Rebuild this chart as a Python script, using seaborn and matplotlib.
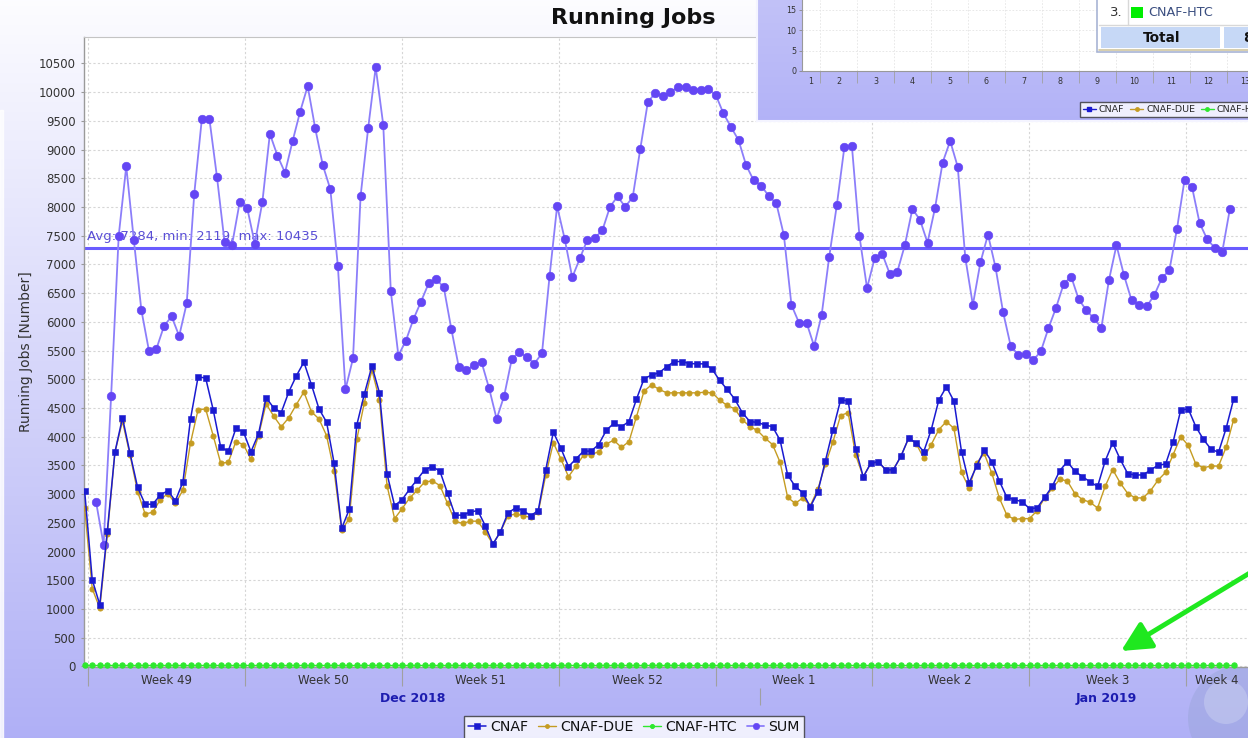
import numpy as np
import pandas as pd
import matplotlib
matplotlib.use("Agg")
import matplotlib.pyplot as plt
import seaborn as sns
from matplotlib.patches import Rectangle, Circle
from matplotlib.lines import Line2D

# ---- values (one sample roughly every 8 hours) ----
cnaf = [3050, 1510, 1075, 2365, 3730, 4330, 3710, 3120, 2825, 2825, 2985, 3060, 2885,
        3215, 4310, 5040, 5025, 4470, 3815, 3750, 4145, 4085, 3740, 4050, 4680, 4505,
        4420, 4780, 5060, 5300, 4905, 4485, 4255, 3540, 2405, 2735, 4205, 4745, 5230,
        4765, 3355, 2800, 2905, 3090, 3255, 3430, 3480, 3400, 3015, 2635, 2635, 2690,
        2715, 2450, 2130, 2345, 2675, 2760, 2715, 2625, 2715, 3430, 4080, 3800, 3480,
        3615, 3750, 3750, 3865, 4110, 4235, 4175, 4265, 4655, 5010, 5075, 5115, 5220,
        5310, 5310, 5275, 5270, 5270, 5180, 4980, 4825, 4655, 4420, 4265, 4250, 4205,
        4175, 3940, 3335, 3135, 3025, 2780, 3045, 3585, 4125, 4640, 4625, 3790, 3300,
        3540, 3565, 3420, 3430, 3665, 3975, 3895, 3740, 4125, 4640, 4870, 4620, 3740,
        3195, 3490, 3770, 3565, 3230, 2945, 2905, 2870, 2750, 2760, 2945, 3135, 3410,
        3565, 3400, 3305, 3215, 3135, 3575, 3895, 3605, 3355, 3335, 3335, 3420, 3505,
        3525, 3915, 4465, 4485, 4175, 3955, 3785, 3730, 4145, 4655]

cnaf_due = [2760, 1355, 1015, 2300, 3730, 4270, 3680, 3045, 2655, 2685, 2905, 3010, 2840,
            3070, 3895, 4470, 4485, 4020, 3540, 3555, 3915, 3865, 3605, 4020, 4575, 4360,
            4175, 4330, 4560, 4780, 4435, 4310, 4020, 3400, 2375, 2575, 3955, 4595, 5165,
            4640, 3150, 2575, 2750, 2935, 3070, 3215, 3230, 3150, 2840, 2530, 2490, 2530,
            2530, 2345, 2130, 2345, 2625, 2655, 2625, 2595, 2685, 3335, 3895, 3615, 3305,
            3490, 3680, 3690, 3740, 3875, 3940, 3815, 3915, 4350, 4795, 4905, 4825, 4765,
            4765, 4765, 4765, 4765, 4775, 4765, 4640, 4545, 4485, 4300, 4175, 4110, 3975,
            3865, 3555, 2945, 2840, 2935, 2800, 3090, 3525, 3915, 4370, 4420, 3680, 3305,
            3540, 3565, 3420, 3430, 3665, 3975, 3880, 3630, 3865, 4125, 4265, 4145, 3380,
            3110, 3540, 3710, 3370, 2935, 2635, 2560, 2575, 2575, 2715, 2935, 3100, 3260,
            3230, 3010, 2905, 2860, 2760, 3135, 3430, 3195, 3010, 2935, 2935, 3060, 3245,
            3380, 3690, 4000, 3850, 3525, 3460, 3490, 3490, 3815, 4300]

# CNAF-HTC sits on the zero line for the whole period
cnaf_htc = [25] * len(cnaf)

sum_jobs = [2870, 2120, 4715, 7500, 8710, 7430, 6205, 5500, 5535, 5930,
            6095, 5755, 6325, 8235, 9535, 9535, 8525, 7395, 7345, 8080,
            7985, 7365, 8080, 9275, 8895, 8600, 9145, 9660, 10105, 9370,
            8730, 8310, 6965, 4825, 5365, 8190, 9370, 10435, 9430, 6530,
            5415, 5675, 6050, 6355, 6670, 6745, 6605, 5880, 5210, 5155,
            5250, 5300, 4845, 4310, 4715, 5350, 5475, 5385, 5275, 5455,
            6795, 8015, 7445, 6775, 7105, 7430, 7460, 7600, 8005, 8185,
            8005, 8170, 9010, 9825, 9990, 9940, 10000, 10095, 10095, 10045,
            10045, 10050, 9950, 9630, 9395, 9165, 8730, 8465, 8375, 8190,
            8065, 7510, 6295, 5985, 5985, 5580, 6125, 7135, 8030, 9040,
            9060, 7490, 6590, 7105, 7190, 6840, 6870, 7335, 7965, 7780,
            7380, 7985, 8775, 9150, 8700, 7120, 6295, 7035, 7520, 6950,
            6170, 5585, 5425, 5440, 5335, 5490, 5890, 6245, 6655, 6790,
            6395, 6205, 6065, 5895, 6725, 7335, 6810, 6375, 6295, 6270,
            6465, 6760, 6900, 7615, 8470, 8345, 7720, 7440, 7290, 7225,
            7965]
sum_offset = 1.5  # SUM samples start later and sit between the other samples

avg_jobs, min_jobs, max_jobs = 7284, 2119, 10435

week_labels = ['Week 49', 'Week 50', 'Week 51', 'Week 52', 'Week 1', 'Week 2', 'Week 3', 'Week 4']
week_edges = [0.44, 21.2, 42.0, 62.7, 83.5, 104.1, 124.9, 145.7]
month_labels = ['Dec 2018', 'Jan 2019']
month_label_pos = [43.4, 135.2]
month_edges = [89.3]

inset_days = [str(d) for d in range(1, 14)]

# ---- colours ----
c_cnaf = '#1a1ad0'
c_due = '#c59c22'
c_htc = '#2ee82e'
c_sum_line = '#8c7efa'
c_sum_mark = '#6446f4'

sns.set_style("white")
plt.rcParams['font.family'] = ['DejaVu Sans']

W, H = 1248, 738
fig = plt.figure(figsize=(W / 100, H / 100), dpi=100)

# background gradient of the window (plus the desktop globe in the corner)
bg = fig.add_axes([0, 0, 1, 1], zorder=0)
bg.set_xlim(0, W)
bg.set_ylim(H, 0)
bg.axis('off')
t = np.linspace(0, 1, 256)[:, None, None]
top_c = np.array([0.99, 0.99, 1.0])
bot_c = np.array([0.69, 0.69, 0.965])
bg.imshow(top_c + (bot_c - top_c) * t * np.ones((1, 2, 1)), extent=(0, W, H, 0), aspect='auto')
bg.add_patch(Rectangle((0, 110), 3, H, color='white', alpha=0.8))
bg.add_patch(Circle((1240, 718), 52, fc='#95a2d4', ec='none', alpha=0.4))
bg.add_patch(Circle((1226, 702), 22, fc='#e2e8f8', ec='none', alpha=0.3))

# ---- main chart ----
ax = fig.add_axes([84 / W, 1 - 667 / H, (W - 84) / W, 630 / H], zorder=2)
ax.set_facecolor('white')

df = pd.DataFrame({'sample': np.arange(len(cnaf)), 'CNAF': cnaf,
                   'CNAF-DUE': cnaf_due, 'CNAF-HTC': cnaf_htc})
df_sum = pd.DataFrame({'sample': np.arange(len(sum_jobs)) + sum_offset, 'SUM': sum_jobs})

ax.axhline(avg_jobs, color='#6a5cff', lw=2.2, zorder=1.5)
ax.annotate(f'Avg: {avg_jobs}, min: {min_jobs}, max: {max_jobs}',
            xy=(0, avg_jobs), xycoords=ax.get_yaxis_transform(),
            xytext=(2, 8.3), textcoords='offset points', va='center', ha='left',
            fontsize=9.5, color='#5a4fd6', zorder=1.6)

sns.lineplot(data=df_sum, x='sample', y='SUM', ax=ax, errorbar=None, color=c_sum_line,
             lw=1.3, marker='o', markersize=6.2, markerfacecolor=c_sum_mark,
             markeredgecolor=c_sum_mark, markeredgewidth=0.4, label='SUM', zorder=3)
sns.lineplot(data=df, x='sample', y='CNAF-HTC', ax=ax, errorbar=None, color=c_htc,
             lw=1.0, marker='o', markersize=3.8, markerfacecolor=c_htc,
             markeredgecolor=c_htc, label='CNAF-HTC', zorder=4, clip_on=False)
sns.lineplot(data=df, x='sample', y='CNAF-DUE', ax=ax, errorbar=None, color=c_due,
             lw=1.0, marker='o', markersize=3.6, markerfacecolor=c_due,
             markeredgecolor=c_due, label='CNAF-DUE', zorder=5)
sns.lineplot(data=df, x='sample', y='CNAF', ax=ax, errorbar=None, color=c_cnaf,
             lw=1.1, marker='s', markersize=5, markerfacecolor=c_cnaf,
             markeredgecolor=c_cnaf, markeredgewidth=0.4, label='CNAF', zorder=6)

handles, labels = ax.get_legend_handles_labels()
if ax.get_legend() is not None:
    ax.get_legend().remove()
legend_order = ['CNAF', 'CNAF-DUE', 'CNAF-HTC', 'SUM']
handles = [handles[labels.index(name)] for name in legend_order]

ax.set_xlim(-0.09, 153.9)
ax.set_ylim(-9, 10961)
ax.set_yticks(np.arange(0, 10501, 500))
ax.tick_params(axis='y', length=2, width=0.8, color='#999999', pad=4,
               labelsize=8.5, labelcolor='#333333', left=True)

# weeks: boundaries as major ticks, names as minor ticks in the middle
ax.set_xticks(week_edges)
ax.set_xticklabels([])
week_mid = [(a + b) / 2 for a, b in zip(week_edges, week_edges[1:] + [153.9])]
ax.set_xticks(week_mid, minor=True)
ax.set_xticklabels(week_labels, minor=True)
ax.tick_params(axis='x', which='major', length=13.5, width=0.8, color='#a0a0a0', bottom=True)
ax.tick_params(axis='x', which='minor', length=0, pad=5.2, labelsize=8.5,
               labelcolor='#333333', bottom=True)

ax.grid(axis='y', color='#d6d6d6', lw=0.8, ls=(0, (2, 2)))
ax.grid(axis='x', which='major', color='#d6d6d6', lw=0.8, ls=(0, (2, 2)))
ax.set_axisbelow(True)

for side in ['left', 'bottom']:
    ax.spines[side].set_color('#9a9a9a')
    ax.spines[side].set_linewidth(1.0)
ax.spines['top'].set_color('#c4c4c4')
ax.spines['right'].set_visible(False)

ax.set_xlabel('')
ax.set_ylabel('Running Jobs [Number]', fontsize=10, color='#333333')
ax.yaxis.set_label_coords(-0.0442, 0.5)

# month row under the weeks
sec = ax.secondary_xaxis(-0.034)
sec.set_xticks(month_edges)
sec.set_xticklabels([])
sec.set_xticks(month_label_pos, minor=True)
sec.set_xticklabels(month_labels, minor=True, fontweight='bold', color='#1c1cb0')
sec.tick_params(axis='x', which='major', length=12, width=0.8, color='#a0a0a0')
sec.tick_params(axis='x', which='minor', length=0, pad=2.5, labelsize=9)
sec.spines['bottom'].set_visible(False)

fig.text(633.5 / W, 1 - 18 / H, 'Running Jobs', ha='center', va='center',
         fontsize=16, fontweight='bold', color='#111111')

leg = fig.legend(handles, legend_order, loc='upper center', bbox_to_anchor=(634 / W, 1 - 716 / H),
                 ncol=4, fontsize=10.2, frameon=True, fancybox=False, edgecolor='#333333',
                 handlelength=1.25, handletextpad=0.3, columnspacing=0.7, borderpad=0.3,
                 borderaxespad=0, markerscale=0.75)
leg.get_frame().set_linewidth(1.0)
for txt in leg.get_texts():
    txt.set_color('#111111')

# ---- overlapping window of another chart (top right) ----
ins_bg = fig.add_axes([757 / W, 1 - 121 / H, (W - 757) / W, 121 / H], zorder=5)
ins_bg.axis('off')
t2 = np.linspace(0, 1, 64)[:, None, None]
ib_top = np.array([0.76, 0.76, 0.97])
ib_bot = np.array([0.70, 0.70, 0.97])
ins_bg.imshow(ib_top + (ib_bot - ib_top) * t2 * np.ones((1, 2, 1)), extent=(0, 1, 0, 1),
              aspect='auto', transform=ins_bg.transAxes)

ins = fig.add_axes([801.7 / W, 1 - 71 / H, (W - 801.7) / W, 71 / H], zorder=6)
ins.set_facecolor('white')
ins.set_xlim(-0.495, 11.57)
ins.set_ylim(0, 17.44)
ins.set_yticks([0, 5, 10, 15])
ins.set_xticks(range(12))
ins.set_xticklabels([])
day_pos = [-0.25] + [d - 1.5 for d in range(2, 14)]
ins.set_xticks(day_pos, minor=True)
ins.set_xticklabels(inset_days, minor=True)
ins.tick_params(axis='y', length=2.5, width=0.6, color='#888888', pad=1.5,
                labelsize=5.8, labelcolor='#333333', left=True)
ins.tick_params(axis='x', which='major', length=8.5, width=0.6, color='#a0a0a0', bottom=True)
ins.tick_params(axis='x', which='minor', length=0, pad=4, labelsize=5.8,
                labelcolor='#333333', bottom=True)
ins.grid(axis='both', which='major', color='#e4e4e4', lw=0.6, ls=(0, (2, 2)))
for side in ['top', 'right']:
    ins.spines[side].set_visible(False)
ins.spines['left'].set_color('#999999')
ins.spines['bottom'].set_color('#999999')

# ---- pixel-space overlay: table, inset legend, arrow ----
ov = fig.add_axes([0, 0, 1, 1], zorder=7)
ov.set_xlim(0, W)
ov.set_ylim(H, 0)
ov.axis('off')
ov.patch.set_visible(False)

ov.add_patch(Rectangle((757, -2), 500, 123, fill=False, ec='#f4f4ff', lw=1.5))
ov.add_patch(Rectangle((1097, -2), 160, 53.5, fc='white', ec='#a8b4d4', lw=1.2))
ov.plot([1099, 1250], [25, 25], color='#d8d8d8', lw=1)
ov.plot([1128, 1128], [-2, 25], color='#d8d8d8', lw=1)
ov.add_patch(Rectangle((1101, 27), 119, 21, fc='#c6d8f6', ec='none'))
ov.add_patch(Rectangle((1224, 27), 30, 21, fc='#c6d8f6', ec='none'))
ov.plot([1099, 1250], [49.5, 49.5], color='#cfc6a0', lw=1.2)
ov.text(1116, 13, '3.', ha='center', va='center', fontsize=9.5, color='#333333')
ov.add_patch(Rectangle((1131, 6.5), 11.5, 11.5, fc='#00ee00', ec='none'))
ov.text(1148, 13, 'CNAF-HTC', ha='left', va='center', fontsize=9.2, color='#3a4e80')
ov.text(1162, 37.5, 'Total', ha='center', va='center', fontsize=9.8,
        fontweight='bold', color='#111111')
ov.text(1243, 37.5, '8', ha='left', va='center', fontsize=9.8,
        fontweight='bold', color='#111111')

ins_handles = [
    Line2D([], [], color=c_cnaf, marker='s', markersize=3, lw=1),
    Line2D([], [], color=c_due, marker='o', markersize=2.5, lw=1),
    Line2D([], [], color=c_htc, marker='o', markersize=2.5, lw=1),
]
ov.legend(ins_handles, ['CNAF', 'CNAF-DUE', 'CNAF-HTC'], loc='upper left',
          bbox_to_anchor=(1080, 102.5), bbox_transform=ov.transData, ncol=3,
          fontsize=6.8, frameon=True, fancybox=False, edgecolor='#333333',
          handlelength=1.4, handletextpad=0.3, columnspacing=0.6, borderpad=0.3,
          borderaxespad=0)

ov.annotate('', xy=(1121, 651), xytext=(1258, 568),
            arrowprops=dict(arrowstyle='-|>,head_length=0.9,head_width=0.45',
                            color='#1fe81f', lw=3.5, shrinkA=0, shrinkB=0,
                            mutation_scale=20))

fig.savefig('out.png', dpi=100)
